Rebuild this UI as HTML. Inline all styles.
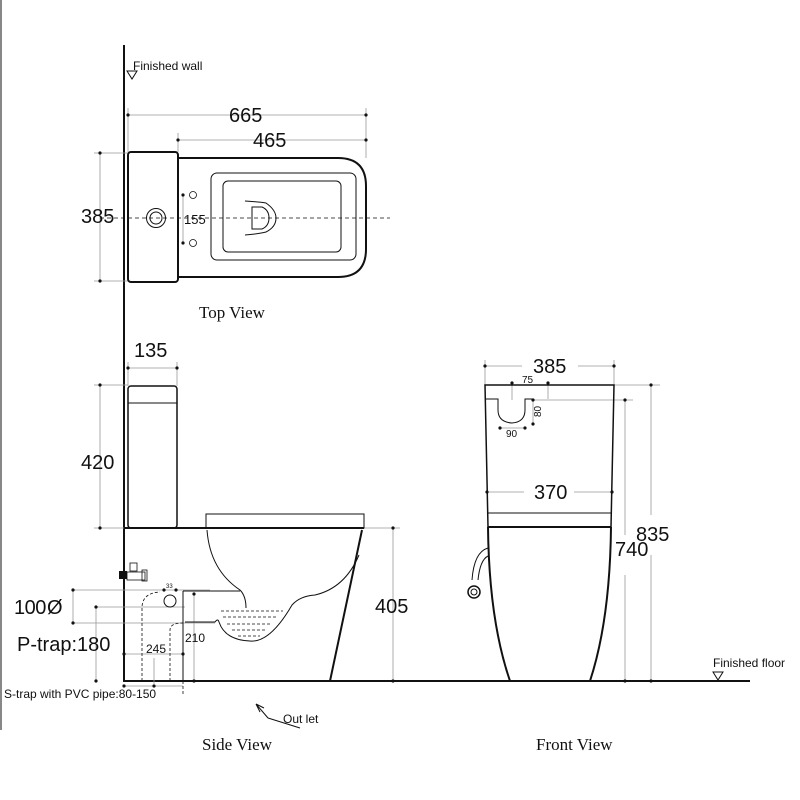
<!DOCTYPE html>
<html><head><style>
html,body{margin:0;padding:0;background:#fff}
svg{display:block}
text{font-family:"Liberation Sans",sans-serif;fill:#111}
.s{font-family:"Liberation Serif",serif}
</style></head><body>
<svg width="800" height="800" viewBox="0 0 800 800" xmlns="http://www.w3.org/2000/svg">
<g fill="none" stroke="#111">
<line x1="1" y1="0" x2="1" y2="730" stroke-width="1"/>
<line x1="124" y1="45" x2="124" y2="682" stroke-width="2"/>
<line x1="124" y1="681" x2="750" y2="681" stroke-width="2"/>
<path d="M127 71 L137 71 L132 79 Z" stroke-width="1"/>
<path d="M713 672 L723 672 L718 680 Z" stroke-width="1"/>

<!-- TOP VIEW -->
<g stroke="#999" stroke-width="0.8">
<line x1="128" y1="115" x2="366" y2="115"/><line x1="178" y1="140" x2="366" y2="140"/>
<line x1="128" y1="108" x2="128" y2="152"/><line x1="366" y1="108" x2="366" y2="158"/>
<line x1="178" y1="133" x2="178" y2="152"/>
<line x1="100" y1="153" x2="100" y2="281"/>
<line x1="94" y1="153" x2="130" y2="153"/><line x1="94" y1="281" x2="130" y2="281"/>
<line x1="183" y1="195" x2="183" y2="243"/>
</g>
<rect x="128" y="152" width="50" height="130" rx="3" stroke-width="2"/>
<path d="M178 158 L338 158 Q366 158 366 186 L366 249 Q366 277 338 277 L178 277" stroke-width="2"/>
<rect x="211" y="173" width="145" height="87" rx="6" stroke-width="1"/>
<rect x="223" y="181" width="118" height="71" rx="5" stroke-width="1"/>
<path d="M245 201 Q260 202 266 203 Q276 210 276 218 Q276 227 266 232 Q258 234 245 235" stroke-width="1"/>
<path d="M252 207 L262 207 Q269 210 269 218 Q269 226 262 229 L252 229 Z" stroke-width="1"/>
<line x1="100" y1="218" x2="390" y2="218" stroke-dasharray="4,3" stroke-width="0.8"/>
<circle cx="156" cy="218" r="9.5" stroke-width="1"/><circle cx="156" cy="218" r="6" stroke-width="1"/>
<circle cx="193" cy="195" r="3.5" stroke-width="0.8"/><circle cx="193" cy="243" r="3.5" stroke-width="0.8"/>

<!-- SIDE VIEW -->
<g stroke="#999" stroke-width="0.8">
<line x1="128" y1="368" x2="178" y2="368"/>
<line x1="128" y1="362" x2="128" y2="386"/><line x1="177" y1="362" x2="177" y2="386"/>
<line x1="100" y1="384" x2="100" y2="528"/>
<line x1="94" y1="385" x2="128" y2="385"/><line x1="94" y1="528" x2="128" y2="528"/>
<line x1="393" y1="528" x2="393" y2="681"/><line x1="362" y1="528" x2="400" y2="528"/>
<line x1="73" y1="590" x2="210" y2="590"/><line x1="73" y1="623" x2="215" y2="623"/>
<line x1="73" y1="590" x2="73" y2="623"/>
<line x1="96" y1="607" x2="185" y2="607"/>
<line x1="96" y1="607" x2="96" y2="681"/>
<line x1="124" y1="654" x2="183" y2="654"/><line x1="154" y1="658" x2="154" y2="684"/>
<line x1="194" y1="593" x2="194" y2="681"/>
<line x1="124" y1="686" x2="183" y2="686"/>
</g>
<rect x="128" y="386" width="49" height="142" rx="3" stroke-width="1.5"/>
<line x1="128" y1="403" x2="177" y2="403" stroke-width="1"/>
<rect x="206" y="514" width="158" height="14" stroke-width="1"/>
<line x1="124" y1="528" x2="364" y2="528" stroke-width="2"/>
<path d="M362 530 L330 681" stroke-width="2"/>
<path d="M207 530 Q210 570 240 590 Q246 596 246 608" stroke-width="1"/>
<path d="M359 555 Q345 588 315 595 Q300 596 292 605 Q270 643 250 641 Q225 640 219 622 Q218 618 215 622 L185 622" stroke-width="1"/>
<path d="M183 591 L240 591" stroke-width="1"/>
<line x1="183" y1="591" x2="183" y2="681" stroke-width="1"/>
<g stroke-width="0.8" stroke-dasharray="3,2">
<line x1="221" y1="611" x2="283" y2="611"/><line x1="223" y1="617" x2="278" y2="617"/>
<line x1="227" y1="624" x2="272" y2="624"/><line x1="232" y1="630" x2="266" y2="630"/><line x1="238" y1="636" x2="260" y2="636"/>
<path d="M142 681 L142 608 Q142 593 160 592"/>
<path d="M170 681 L170 630 Q170 623 183 623"/>
<line x1="183" y1="681" x2="183" y2="694"/>
</g>
<circle cx="170" cy="601" r="6" stroke-width="1"/>
<rect x="119" y="571" width="8" height="8" fill="#111" stroke-width="0"/>
<rect x="127" y="572" width="18" height="8" stroke-width="0.8"/>
<rect x="130" y="563" width="7" height="8" stroke-width="0.8"/>
<rect x="142" y="570" width="5" height="11" stroke-width="0.8"/>
<path d="M268 718 L256 704 M256 704 L260 712 M256 704 L264 708 M268 718 L300 728" stroke-width="1"/>

<!-- FRONT VIEW -->
<g stroke="#999" stroke-width="0.8">
<line x1="485" y1="366" x2="522" y2="366"/><line x1="578" y1="366" x2="614" y2="366"/>
<line x1="485" y1="360" x2="485" y2="385"/><line x1="614" y1="360" x2="614" y2="385"/>
<line x1="651" y1="385" x2="651" y2="515"/><line x1="651" y1="555" x2="651" y2="681"/>
<line x1="614" y1="385" x2="660" y2="385"/>
<line x1="625" y1="400" x2="625" y2="535"/><line x1="625" y1="575" x2="625" y2="681"/>
<line x1="533" y1="400" x2="633" y2="400"/>
<line x1="487" y1="492" x2="524" y2="492"/><line x1="574" y1="492" x2="612" y2="492"/>
<line x1="512" y1="383" x2="512" y2="400"/><line x1="548" y1="383" x2="548" y2="399"/>
<line x1="533" y1="400" x2="533" y2="424"/>
<line x1="500" y1="428" x2="525" y2="428"/>
</g>
<path d="M488 527 L485 385 L614 385 L611 527" stroke-width="1.5"/>
<path d="M485 399 L498 399 L498 410 Q498 422 512 423 Q525 422 525 410 L525 399 L533 399" stroke-width="1"/>
<line x1="488" y1="513" x2="611" y2="513" stroke-width="1"/>
<line x1="488" y1="527" x2="611" y2="527" stroke-width="2"/>
<path d="M488 527 Q489 620 510 681" stroke-width="2"/>
<path d="M611 527 Q610 620 590 681" stroke-width="2"/>
<path d="M488 548 Q474 552 472 580 M488 556 Q480 560 478 580" stroke-width="1"/>
<circle cx="474" cy="592" r="6" stroke-width="1.5"/><circle cx="474" cy="592" r="3" stroke-width="1"/>
</g>
<g fill="#111">
<circle cx="128" cy="115" r="1.6"/><circle cx="366" cy="115" r="1.6"/>
<circle cx="178" cy="140" r="1.6"/><circle cx="366" cy="140" r="1.6"/>
<circle cx="100" cy="153" r="1.6"/><circle cx="100" cy="281" r="1.6"/>
<circle cx="183" cy="195" r="1.6"/><circle cx="183" cy="243" r="1.6"/>
<circle cx="128" cy="368" r="1.6"/><circle cx="177" cy="368" r="1.6"/>
<circle cx="100" cy="385" r="1.6"/><circle cx="100" cy="528" r="1.6"/>
<circle cx="393" cy="528" r="1.6"/><circle cx="393" cy="681" r="1.6"/>
<circle cx="73" cy="590" r="1.6"/><circle cx="73" cy="623" r="1.6"/>
<circle cx="96" cy="607" r="1.6"/><circle cx="96" cy="681" r="1.6"/>
<circle cx="124" cy="654" r="1.6"/><circle cx="183" cy="654" r="1.6"/>
<circle cx="124" cy="686" r="1.6"/><circle cx="154" cy="686" r="1.6"/>
<circle cx="194" cy="594" r="1.6"/><circle cx="194" cy="681" r="1.6"/>
<circle cx="164" cy="590" r="1.6"/><circle cx="176" cy="590" r="1.6"/>
<circle cx="485" cy="366" r="1.6"/><circle cx="614" cy="366" r="1.6"/>
<circle cx="651" cy="385" r="1.6"/><circle cx="651" cy="681" r="1.6"/>
<circle cx="625" cy="400" r="1.6"/><circle cx="625" cy="681" r="1.6"/>
<circle cx="487" cy="492" r="1.6"/><circle cx="612" cy="492" r="1.6"/>
<circle cx="512" cy="383" r="1.6"/><circle cx="548" cy="383" r="1.6"/>
<circle cx="533" cy="400" r="1.6"/><circle cx="533" cy="424" r="1.6"/>
<circle cx="500" cy="428" r="1.6"/><circle cx="525" cy="428" r="1.6"/>
</g>
<text x="133" y="70" font-size="12">Finished wall</text>
<text x="229" y="122" font-size="20">665</text>
<text x="253" y="147" font-size="20">465</text>
<text x="81" y="223" font-size="20">385</text>
<text x="184" y="224" font-size="13">155</text>
<text class="s" x="199" y="318" font-size="17">Top View</text>
<text x="134" y="357" font-size="20">135</text>
<text x="81" y="469" font-size="20">420</text>
<text x="375" y="613" font-size="20">405</text>
<text x="14" y="614" font-size="20" letter-spacing="-0.5">100</text>
<text x="47" y="614" font-size="20">Ø</text>
<text x="17" y="651" font-size="20">P-trap:180</text>
<text x="146" y="653" font-size="12">245</text>
<text x="185" y="642" font-size="12">210</text>
<text x="166" y="588" font-size="6">33</text>
<text x="4" y="698" font-size="12">S-trap with PVC pipe:80-150</text>
<text x="283" y="723" font-size="12">Out let</text>
<text class="s" x="202" y="750" font-size="17">Side View</text>
<text x="533" y="373" font-size="20">385</text>
<text x="522" y="383" font-size="10">75</text>
<text x="541" y="417" font-size="10" transform="rotate(-90 541 417)">80</text>
<text x="506" y="437" font-size="10">90</text>
<text x="534" y="499" font-size="20">370</text>
<text x="636" y="541" font-size="20">835</text>
<text x="615" y="556" font-size="20">740</text>
<text x="713" y="667" font-size="12">Finished floor</text>
<text class="s" x="536" y="750" font-size="17">Front View</text>
</svg>
</body></html>
